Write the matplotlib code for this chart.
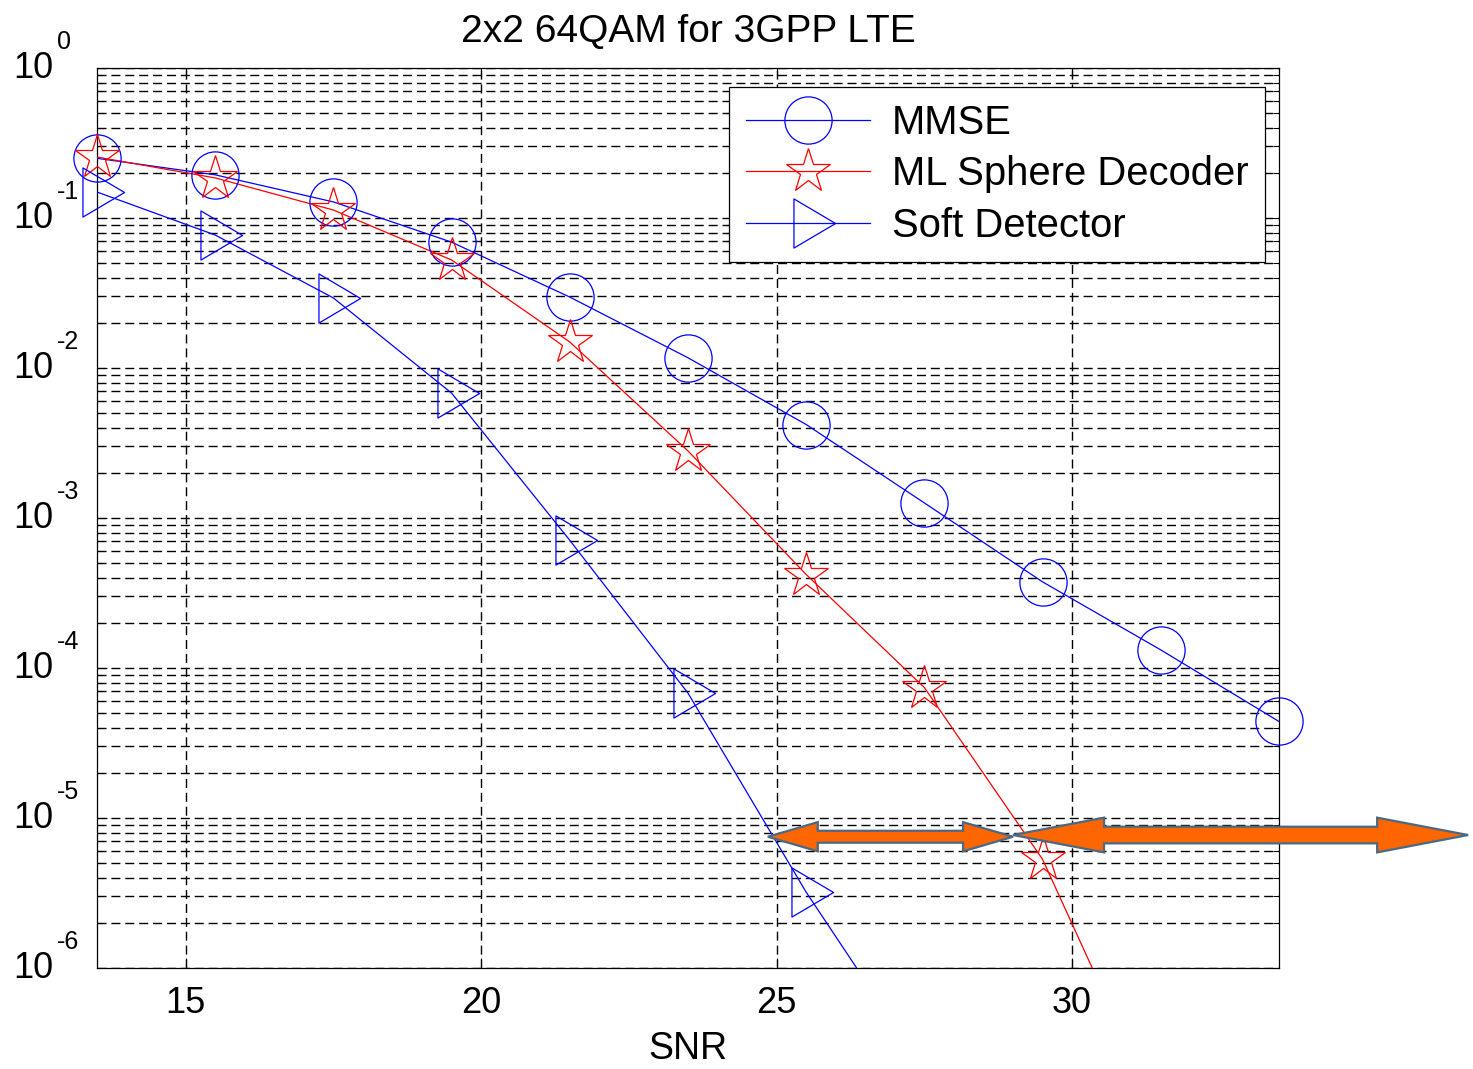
import matplotlib
matplotlib.use("Agg")
import matplotlib.pyplot as plt
from matplotlib.lines import Line2D
from matplotlib.patches import Polygon
from matplotlib.path import Path
from matplotlib.ticker import LogLocator, NullFormatter, FixedLocator
from matplotlib.transforms import blended_transform_factory, offset_copy

plt.rcParams['font.family'] = ['Liberation Sans', 'DejaVu Sans']

# courbes BER
snr_mmse = [13.5, 15.5, 17.5, 19.5, 21.5, 23.5, 25.5, 27.5, 29.5, 31.5, 33.5]
ber_mmse = [0.25, 0.194, 0.128, 0.069, 0.0297, 0.0117, 4.2e-3, 1.26e-3, 3.75e-4, 1.32e-4, 4.4e-5]

snr_ml = [13.5, 15.5, 17.5, 19.5, 21.5, 23.5, 25.5, 27.5, 29.5, 31.5]
ber_ml = [0.255, 0.185, 0.113, 0.0525, 0.0149, 2.8e-3, 4.2e-4, 7.4e-5, 5.3e-6, 1.0e-7]

snr_soft = [13.5, 15.5, 17.5, 19.5, 21.5, 23.5, 25.5, 27.5]
ber_soft = [0.149, 0.077, 0.0293, 6.8e-3, 7.1e-4, 6.8e-5, 3.2e-6, 2.1e-7]

x_ticks = [15, 20, 25, 30]
y_decades = [0, -1, -2, -3, -4, -5, -6]
legend_labels = ['MMSE', 'ML Sphere Decoder', 'Soft Detector']
title = '2x2 64QAM for 3GPP LTE'

# fleches oranges (ajoutees a la main sur la figure d'origine)
arrow_snr = [(24.85, 29.0), (29.0, 36.7)]
arrow_ber = [7.5e-6, 7.7e-6]

# triangle centre sur son barycentre, comme le '>' de MATLAB
tri = Path([(27, 0), (-14.5, 24.5), (-14.5, -24.5), (27, 0)],
           [Path.MOVETO, Path.LINETO, Path.LINETO, Path.CLOSEPOLY])

series = [
    (snr_mmse, ber_mmse, 'blue', 'o', 34),
    (snr_ml, ber_ml, 'red', '*', 33),
    (snr_soft, ber_soft, 'blue', tri, 39),
]

fig = plt.figure(figsize=(14.73, 10.69), dpi=100)
ax = fig.add_axes([97 / 1473, 101 / 1069, 1182 / 1473, 900 / 1069])
ax.set_yscale('log')
ax.set_xlim(13.5, 33.5)
ax.set_ylim(1e-6, 1)

handles = []
for xs, ys, col, mk, ms in series:
    ax.plot(xs, ys, color=col, lw=0.9, zorder=3)
    keep = [(x, y) for x, y in zip(xs, ys) if y >= 1e-6]
    ax.plot([p[0] for p in keep], [p[1] for p in keep], ls='none', marker=mk, ms=ms,
            mfc='none', mec=col, mew=0.9, clip_on=False, zorder=4)
    handles.append(Line2D([], [], color=col, lw=0.9, marker=mk, ms=ms,
                          mfc='none', mec=col, mew=0.9))

# grille pointillee facon MATLAB
ax.xaxis.set_major_locator(FixedLocator(x_ticks))
ax.yaxis.set_major_locator(LogLocator(base=10, numticks=20))
ax.yaxis.set_minor_locator(LogLocator(base=10, subs=range(2, 10), numticks=20))
ax.yaxis.set_major_formatter(NullFormatter())
ax.yaxis.set_minor_formatter(NullFormatter())
ax.set_axisbelow(True)
ax.grid(True, which='major', axis='both', color='k', lw=1.0, ls=(0, (6.5, 3.5)))
ax.grid(True, which='minor', axis='y', color='k', lw=1.0, ls=(0, (6.5, 3.5)))
ax.tick_params(which='both', direction='in', top=True, right=True, width=0.75)
ax.tick_params(which='major', length=7)
ax.tick_params(which='minor', length=4)
ax.tick_params(axis='x', labelsize=26, pad=13)
for s in ax.spines.values():
    s.set_linewidth(0.9)

# etiquettes 10^k
tr = blended_transform_factory(ax.transAxes, ax.transData)
tr_exp = offset_copy(tr, fig=fig, x=0, y=19, units='points')
for k in y_decades:
    ax.text(-0.0372, 10.0 ** k, '10', transform=tr, ha='right', va='center', fontsize=26)
    ax.text(-0.0338, 10.0 ** k, str(k), transform=tr_exp, ha='left', va='center', fontsize=18)

ax.set_xlabel('SNR', fontsize=27, labelpad=7)
ax.set_title(title, fontsize=28, pad=19)

leg = ax.legend(handles, legend_labels, loc='upper left', bbox_to_anchor=(0.5347, 0.9789),
                borderaxespad=0, fontsize=28.8, handlelength=3.1, handletextpad=0.55,
                labelspacing=0.34, borderpad=0.42, fancybox=False, framealpha=1,
                edgecolor='k', numpoints=1)
leg.get_frame().set_linewidth(0.9)
leg.set_zorder(5)

def double_arrow(x0, x1, y, head_len, head_w, shaft_w):
    k = fig.dpi / 72.0
    (px0, py), (px1, _) = ax.transData.transform([(x0, y), (x1, y)])
    hl, hw, sw = head_len * k, head_w * k / 2, shaft_w * k / 2
    pts = [(px0, py), (px0 + hl, py + hw), (px0 + hl, py + sw), (px1 - hl, py + sw),
           (px1 - hl, py + hw), (px1, py), (px1 - hl, py - hw), (px1 - hl, py - sw),
           (px0 + hl, py - sw), (px0 + hl, py - hw)]
    pts = fig.transFigure.inverted().transform(pts)
    fig.add_artist(Polygon(pts, closed=True, transform=fig.transFigure, facecolor='#ff6600',
                           edgecolor='#4a6984', lw=1.6, joinstyle='miter', zorder=10))

double_arrow(arrow_snr[0][0], arrow_snr[0][1], arrow_ber[0], 36, 21, 8.6)
double_arrow(arrow_snr[1][0], arrow_snr[1][1], arrow_ber[1], 65.5, 25, 12)

fig.savefig('out.png', dpi=100)
